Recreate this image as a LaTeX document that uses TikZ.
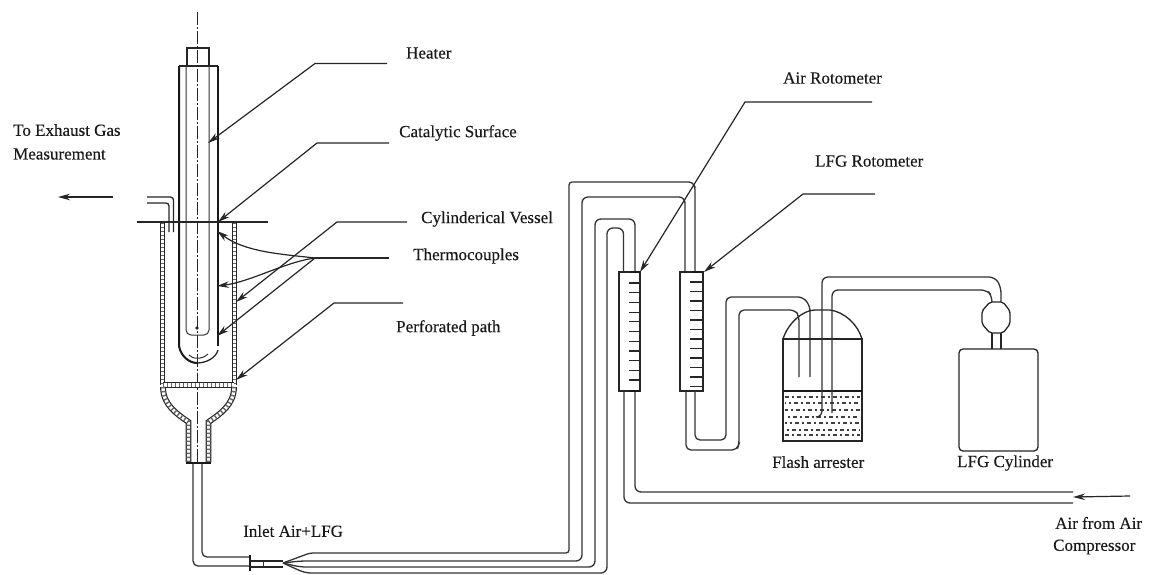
\documentclass[tikz,border=0pt]{standalone}
\usepackage{fontspec}
\setmainfont[FakeBold=0.25]{Liberation Serif}
\usetikzlibrary{arrows.meta}
\tikzset{
  ln/.style={draw=black!85,line width=1.3pt},
  thin ln/.style={draw=black!80,line width=1pt},
  thick ln/.style={draw=black!90,line width=2pt},
  pipe/.style={draw=black!80,line width=1.3pt,rounded corners=5pt},
  leader/.style={draw=black!85,line width=1.2pt,-{Stealth[length=12pt,width=6.5pt]}},
  wallb/.style={draw=black!85,line width=1.2pt,double=white,double distance=3.4pt},
  rungs/.style={draw=black!60,line width=3.6pt,dash pattern=on 1.4pt off 2.6pt},
  lab/.style={font=\fontsize{17}{20}\selectfont,inner sep=0pt,anchor=west,text=black!90},
  axis/.style={draw=black!85,line width=1pt,dash pattern=on 13pt off 2pt on 2pt off 2pt},
  water/.style={draw=black!75,line width=1.2pt},
  tick/.style={draw=black!85,line width=1.2pt}
}
\newcommand{\wallpath}[1]{\draw[wallb] #1; \draw[rungs] #1;}
\begin{document}
\begin{tikzpicture}[x=1pt,y=-1pt]
\useasboundingbox (0,0) rectangle (1151,574);
\fill[white] (0,0) rectangle (1151,574);

% ---------- reactor
\draw[axis] (197,12) -- (197,463);
\draw[ln] (187,65) -- (187,48) -- (209,48) -- (209,65);
\draw[ln] (179,66) -- (218,66);
\draw[thick ln] (179,66) -- (179,346) .. controls (181,357) and (190,363) .. (197,363);
\draw[thick ln] (218,66) -- (218,346);
\draw[ln] (218,350) .. controls (216,358) and (206,363) .. (197,363);
\draw[thin ln] (189,355) .. controls (192,359) and (202,360) .. (208,354);
\draw[thin ln,rounded corners=5pt] (186,66) -- (186,335) -- (209,335) -- (209,66);
\fill[black!85] (197,328) circle (1.9);
\draw[ln] (137,222) -- (268,222);
% exhaust stub
\draw[ln,rounded corners=3pt] (147,197) -- (173.5,197) -- (173.5,232);
\draw[ln,rounded corners=3pt] (147,203) -- (169,203) -- (169,232);
% vessel wall
\wallpath{(162.5,223) -- (162.5,385)}
\wallpath{(234.5,223) -- (234.5,385)}
\wallpath{(163,385) -- (234,385)}
\wallpath{(163,387) .. controls (163,405) and (177,414) .. (188.5,422) -- (188.5,462)}
\wallpath{(234,387) .. controls (234,405) and (220,414) .. (208.5,422) -- (208.5,462)}
\draw[thick ln] (186,463) -- (211,463);
% inlet pipe
\draw[pipe] (193,464) -- (193,566) -- (250,566);
\draw[pipe] (202,464) -- (202,557) -- (250,557);
\draw[line width=2.2pt,draw=black!90] (250,555) -- (250,571);
\draw[thin ln] (263,560) -- (263,567);
\draw[ln] (250,561) -- (283,561);
\draw[ln] (250,567) -- (283,567);

% ---------- manifold and long pipes
\draw[pipe,rounded corners=3pt] (283,563) -- (310,553) -- (569,553) -- (569,182) -- (692,182) -- (695,187) -- (695,272);
\draw[pipe,rounded corners=6pt] (283,563) -- (300,561) -- (582,561) -- (582,197) -- (685,197) -- (685,272);
\draw[pipe,rounded corners=6pt] (283,563) -- (300,567) -- (595,567) -- (595,219) -- (635,219) -- (635,272);
\draw[pipe,rounded corners=6pt] (283,563) -- (305,573) -- (607,573) -- (607,228) -- (623.5,228) -- (623.5,272);
% air line
\draw[pipe,rounded corners=6pt] (635,391) -- (635,492) -- (1073,492);
\draw[pipe,rounded corners=6pt] (624,391) -- (624,503) -- (1073,503);

% ---------- air rotameter
\draw[ln] (619,272) rectangle (640,391);
\foreach \t in {283,292.7,302.4,312.1,321.8,331.5,341.2,350.9,360.6,370.3,380}
  \draw[tick] (629,\t) -- (640,\t);
\draw[thick ln] (630,272) -- (640,272) (630,391) -- (640,391);

% ---------- LFG rotameter
\draw[ln] (680,272) rectangle (703,391);
\foreach \t in {282,291.5,301,310.5,320,329.5,339,348.5,358,367.5,377,386.5}
  \draw[tick] (690,\t) -- (703,\t);
\draw[thick ln] (692,272) -- (703,272);
% LFG line to arrester
\draw[pipe] (695,391) -- (695,440) -- (726,440) -- (726,297) -- (803,297) -- (810,306) -- (810,377);
\draw[pipe] (686,391) -- (686,450) -- (737,450) -- (739,444) -- (739,310) -- (795,310) -- (799,316) -- (799,377);

% ---------- flash arrester
\draw[ln] (783,339) -- (783,441) -- (862,441) -- (862,339) -- cycle;
\draw[ln] (783,339) .. controls (788,323) and (803,310) .. (815,310) -- (830,310) .. controls (845,312) and (858,325) .. (862,339);
\draw[thick ln] (783,391) -- (862,391);
\foreach \y/\o in {397/0,403/3,410/1,417/4,423/2,430/5,435/0}
  \draw[water,dash pattern=on 4pt off 3pt on 2pt off 3pt,dash phase=\o pt] (785,\y) -- (860,\y);
\draw[pipe,rounded corners=6pt] (817,417) -- (822,417) -- (822,277) -- (995,277) -- (1001,287) -- (1001,302);
\draw[pipe,rounded corners=6pt] (832,413) -- (832,290) -- (987,290) -- (992,296) -- (992,302);

% ---------- valve and cylinder
\draw[ln,rounded corners=2pt] (990,302) -- (1003,302) -- (1010,311) -- (1010,324) -- (1003,333) -- (990,333) -- (982,324) -- (982,311) -- cycle;
\draw[ln] (992,333) -- (992,349) (1001,333) -- (1001,349);
\draw[ln,rounded corners=4pt] (959,400) -- (959,349) -- (1038,349) -- (1038,451) -- (959,451) -- cycle;

% ---------- labels
\node[lab] (heater) at (406,53) {Heater};
\node[lab] (catalytic) at (399,133) {Catalytic Surface};
\node[lab] (vessel) at (421,219) {Cylinderical Vessel};
\node[lab] (thermo) at (413,256) {Thermocouples};
\node[lab] (path) at (396,328) {Perforated path};
\node[lab] (exh1) at (13,130) {To Exhaust Gas};
\node[lab] (exh2) at (13,154) {Measurement};
\node[lab] (inlet) at (243,531) {Inlet Air+LFG};
\node[lab] (airrot) at (783,78) {Air Rotometer};
\node[lab] (lfgrot) at (815,161) {LFG Rotometer};
\node[lab] (flash) at (772,462) {Flash arrester};
\node[lab] (cyl) at (957,463) {LFG Cylinder};
\node[lab] (air1) at (1055,523) {Air from Air};
\node[lab] (air2) at (1053,547) {Compressor};

% ---------- leaders
\coordinate (hA) at (387,63.5); \coordinate (hK) at (315,63.5); \coordinate (hT) at (208,143);
\coordinate (cA) at (389,143);  \coordinate (cK) at (317,143);  \coordinate (cT) at (218,222);
\coordinate (vA) at (407,222);  \coordinate (vK) at (337,222);  \coordinate (vT) at (236,302);
\coordinate (pA) at (403,303);  \coordinate (pK) at (334,303);  \coordinate (pT) at (236,380);
\coordinate (tA) at (389,258);  \coordinate (tK) at (315,258);
\coordinate (t1) at (217,231);  \coordinate (t2) at (217,286);  \coordinate (t3) at (217,336);
\coordinate (aA) at (872,102);  \coordinate (aK) at (745,102);  \coordinate (aT) at (640,272);
\coordinate (lA) at (875,194);  \coordinate (lK) at (803,194);  \coordinate (lT) at (704,272);
\draw[leader] (hA) -- (hK) -- (hT);
\draw[leader] (cA) -- (cK) -- (cT);
\draw[leader] (vA) -- (vK) -- (vT);
\draw[leader] (pA) -- (pK) -- (pT);
\draw[leader] (aA) -- (aK) -- (aT);
\draw[leader] (lA) -- (lK) -- (lT);
\draw[draw=black!85,line width=1.2pt] (tA) -- (tK);
\draw[leader] (tK) .. controls (280,254) and (245,252) .. (t1);
\draw[leader] (tK) .. controls (285,262) and (250,282) .. (t2);
\draw[leader] (tK) -- (t3);
% flow arrows
\coordinate (eA) at (113,197); \coordinate (eT) at (58,197);
\coordinate (iA) at (1130,496); \coordinate (iT) at (1073,497);
\draw[leader] (eA) -- (eT);
\draw[leader] (iA) -- (iT);
\end{tikzpicture}
\end{document}
